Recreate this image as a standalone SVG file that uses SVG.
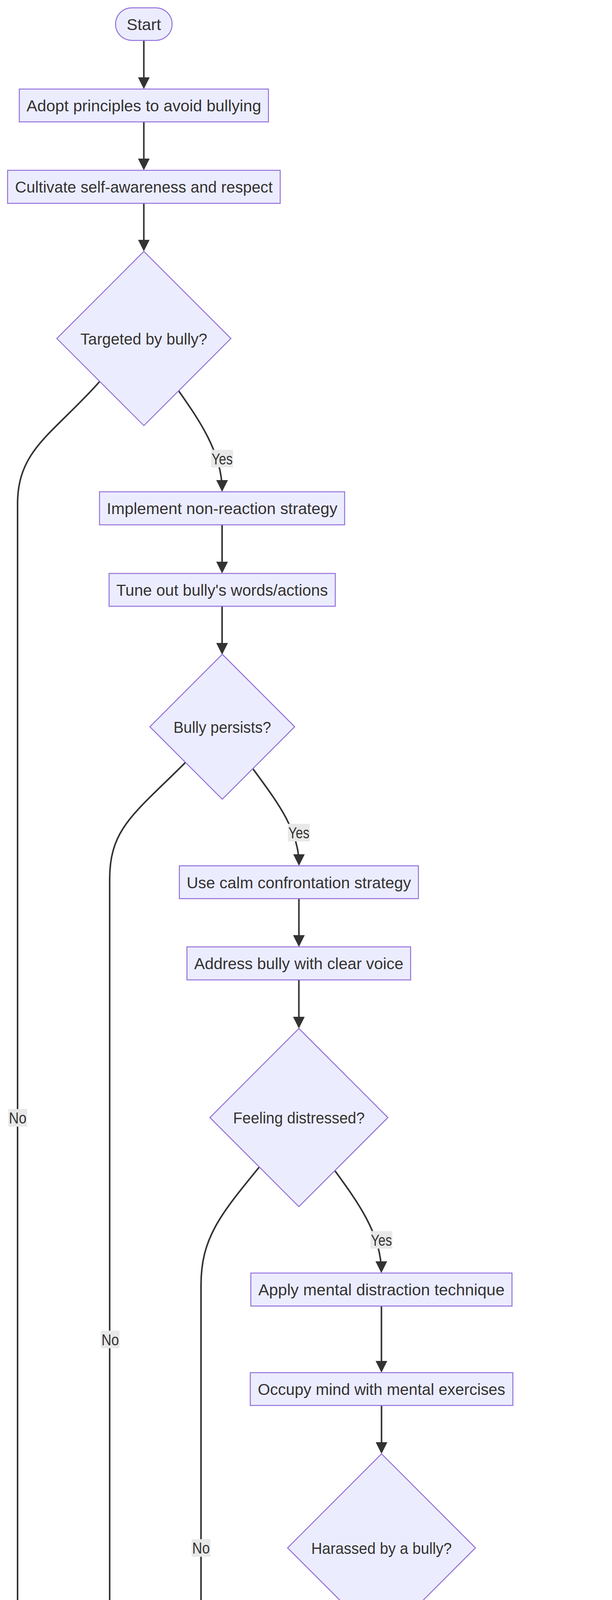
<svg xmlns="http://www.w3.org/2000/svg" width="1568" height="4992" viewBox="0 0 1568 4992">
<style>
.n{fill:#ECECFF;stroke:#9370DB;stroke-width:2.5}
.t{font-family:"Liberation Sans",Arial,sans-serif;font-size:41px;fill:#333333;text-anchor:middle}
.e{fill:none;stroke:#333333;stroke-width:4}
.lb{fill:#e8e8e8}
</style>
<defs>
<marker id="arr" viewBox="0 0 10 10" refX="8.33" refY="5" markerUnits="userSpaceOnUse" markerWidth="30" markerHeight="30" orient="auto">
<path d="M0,0 L10,5 L0,10 z" fill="#333333"/>
</marker>
</defs>
<rect width="1568" height="4992" fill="#ffffff"/>
<g id="edges">
<path class="e" marker-end="url(#arr)" d="M368.5,103.3 V223"/>
<path class="e" marker-end="url(#arr)" d="M368.5,312 V431"/>
<path class="e" marker-end="url(#arr)" d="M368.5,520.5 V638.5"/>
<path class="e" marker-end="url(#arr)" d="M458,1001 C510,1075 569,1160 569,1254"/>
<path class="e" marker-end="url(#arr)" d="M255,977 C135,1112 45,1150 45,1290 V4684 C45,4758 115,4788 374.5,4859.7"/>
<path class="e" marker-end="url(#arr)" d="M569,1343.5 V1463"/>
<path class="e" marker-end="url(#arr)" d="M569,1552 V1671"/>
<path class="e" marker-end="url(#arr)" d="M648,1968 C700,2040 766,2120 766,2211.5"/>
<path class="e" marker-end="url(#arr)" d="M475,1952 C345,2082 281,2120 281,2250 V4700 C281,4765 330,4795 375.5,4834"/>
<path class="e" marker-end="url(#arr)" d="M765.8,2300.5 V2419"/>
<path class="e" marker-end="url(#arr)" d="M765.7,2508.5 V2628"/>
<path class="e" marker-end="url(#arr)" d="M858,2997 C915,3075 977,3160 977,3254"/>
<path class="e" marker-end="url(#arr)" d="M664,2988 C564,3110 515,3170 515,3290 V4715 C515,4780 503,4802 474,4832"/>
<path class="e" marker-end="url(#arr)" d="M977.3,3343.5 V3509"/>
<path class="e" marker-end="url(#arr)" d="M977.5,3598 V3717"/>
<path class="e" marker-end="url(#arr)" d="M1073,4108 C1130,4185 1191,4275 1191,4368.5"/>
<path class="e" marker-end="url(#arr)" d="M883,4109 C813,4224 763.5,4280 763.5,4400 V4690 C763.5,4770 700,4790 509.7,4855.1"/>
<path class="e" marker-end="url(#arr)" d="M1191.3,4457.5 V4623"/>
<path class="e" marker-end="url(#arr)" d="M1191,4712 V4730 C1191,4790 1000,4800 510,4867.6"/>
</g>
<g id="edge-labels">
<g id="lbl-yes1"><rect class="lb" x="541" y="1151.5" width="56" height="45"/><text class="t" x="569" y="1188.5" textLength="54" lengthAdjust="spacingAndGlyphs">Yes</text></g>
<g id="lbl-yes2"><rect class="lb" x="737.8" y="2109" width="56" height="45"/><text class="t" x="765.8" y="2146" textLength="54" lengthAdjust="spacingAndGlyphs">Yes</text></g>
<g id="lbl-yes3"><rect class="lb" x="949.2" y="3151.5" width="56" height="45"/><text class="t" x="977.2" y="3188.5" textLength="54" lengthAdjust="spacingAndGlyphs">Yes</text></g>
<g id="lbl-yes4"><rect class="lb" x="1163.3" y="4266" width="56" height="45"/><text class="t" x="1191.3" y="4303" textLength="54" lengthAdjust="spacingAndGlyphs">Yes</text></g>
<g id="lbl-no1"><rect class="lb" x="21.3" y="2839.2" width="48" height="45"/><text class="t" x="45.3" y="2876.2" textLength="45" lengthAdjust="spacingAndGlyphs">No</text></g>
<g id="lbl-no2"><rect class="lb" x="258.4" y="3406.5" width="48" height="45"/><text class="t" x="282.4" y="3443.5" textLength="45" lengthAdjust="spacingAndGlyphs">No</text></g>
<g id="lbl-no3"><rect class="lb" x="491" y="3940.3" width="48" height="45"/><text class="t" x="515" y="3977.3" textLength="45" lengthAdjust="spacingAndGlyphs">No</text></g>
<g id="lbl-no4"><rect class="lb" x="739.5" y="4520.5" width="48" height="45"/><text class="t" x="763.5" y="4557.5" textLength="45" lengthAdjust="spacingAndGlyphs">No</text></g>
</g>
<g id="start"><rect class="n" x="296" y="20" width="145" height="83.4" rx="41.7" ry="41.7"/><text class="t" x="368.5" y="76.5" textLength="88" lengthAdjust="spacingAndGlyphs">Start</text></g>
<g id="adopt"><rect class="n" x="49.5" y="228" width="638.3" height="84"/><text class="t" x="368.6" y="285" textLength="601" lengthAdjust="spacingAndGlyphs">Adopt principles to avoid bullying</text></g>
<g id="cultivate"><rect class="n" x="19.4" y="436" width="698.5" height="84.5"/><text class="t" x="368.6" y="493" textLength="660" lengthAdjust="spacingAndGlyphs">Cultivate self-awareness and respect</text></g>
<g id="targeted"><polygon class="n" points="368.6,643.6 591.6,866.6 368.6,1089.6 145.6,866.6"/><text class="t" x="368.6" y="881.5" textLength="325" lengthAdjust="spacingAndGlyphs">Targeted by bully?</text></g>
<g id="implement"><rect class="n" x="255" y="1259" width="628" height="84.5"/><text class="t" x="569" y="1316" textLength="591" lengthAdjust="spacingAndGlyphs">Implement non-reaction strategy</text></g>
<g id="tuneout"><rect class="n" x="279.5" y="1468" width="579.5" height="84"/><text class="t" x="569" y="1525" textLength="542" lengthAdjust="spacingAndGlyphs">Tune out bully's words/actions</text></g>
<g id="persists"><polygon class="n" points="569.5,1675 755,1860.5 569.5,2046 384,1860.5"/><text class="t" x="569.5" y="1875.5" textLength="250" lengthAdjust="spacingAndGlyphs">Bully persists?</text></g>
<g id="usecalm"><rect class="n" x="459.6" y="2216.5" width="612.4" height="84"/><text class="t" x="765.8" y="2273.5" textLength="575" lengthAdjust="spacingAndGlyphs">Use calm confrontation strategy</text></g>
<g id="address"><rect class="n" x="479" y="2424" width="573" height="84.5"/><text class="t" x="765.5" y="2481" textLength="536" lengthAdjust="spacingAndGlyphs">Address bully with clear voice</text></g>
<g id="distressed"><polygon class="n" points="765.8,2633 993.8,2861 765.8,3089 537.8,2861"/><text class="t" x="765.8" y="2876" textLength="337" lengthAdjust="spacingAndGlyphs">Feeling distressed?</text></g>
<g id="apply"><rect class="n" x="642.7" y="3259" width="669.1" height="84.5"/><text class="t" x="977.2" y="3316" textLength="631" lengthAdjust="spacingAndGlyphs">Apply mental distraction technique</text></g>
<g id="occupy"><rect class="n" x="641.2" y="3514" width="672.8" height="84"/><text class="t" x="977.6" y="3571" textLength="634" lengthAdjust="spacingAndGlyphs">Occupy mind with mental exercises</text></g>
<g id="harassed"><polygon class="n" points="977.5,3721.8 1218.2,3962.5 977.5,4203.2 736.8,3962.5"/><text class="t" x="977.5" y="3977.5" textLength="360" lengthAdjust="spacingAndGlyphs">Harassed by a bully?</text></g>
<g id="express"><rect class="n" x="850.5" y="4373.5" width="681.5" height="84"/><text class="t" x="1191.3" y="4430.5" textLength="643" lengthAdjust="spacingAndGlyphs">Express feelings to someone trusted</text></g>
<g id="gain"><rect class="n" x="870" y="4628" width="642" height="84"/><text class="t" x="1191" y="4685" textLength="606" lengthAdjust="spacingAndGlyphs">Gain emotional relief and support</text></g>
<g id="end"><rect class="n" x="381" y="4836" width="122" height="84" rx="42" ry="42"/><text class="t" x="442" y="4893" textLength="66" lengthAdjust="spacingAndGlyphs">End</text></g>
</svg>
